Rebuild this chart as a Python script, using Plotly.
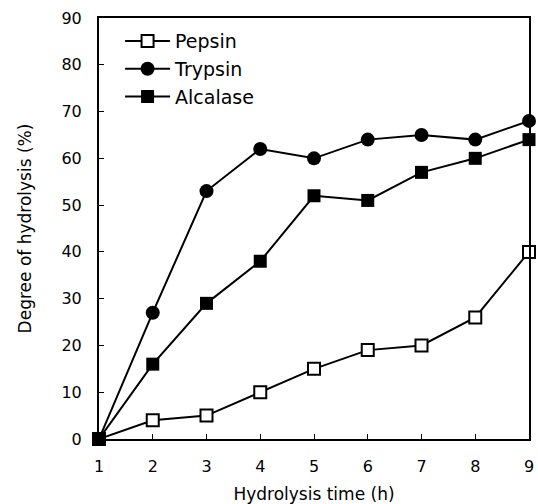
import plotly.graph_objects as go

hours = [1, 2, 3, 4, 5, 6, 7, 8, 9]
pepsin = [0, 4, 5, 10, 15, 19, 20, 26, 40]
trypsin = [0, 27, 53, 62, 60, 64, 65, 64, 68]
alcalase = [0, 16, 29, 38, 52, 51, 57, 60, 64]

x_ticks = [1, 2, 3, 4, 5, 6, 7, 8, 9]
y_ticks = [0, 10, 20, 30, 40, 50, 60, 70, 80, 90]

fig = go.Figure()
fig.add_trace(go.Scatter(x=hours, y=pepsin, name="Pepsin", mode="lines+markers",
                         line=dict(color="black", width=2),
                         marker=dict(symbol="square", size=12, color="white",
                                     line=dict(color="black", width=2))))
fig.add_trace(go.Scatter(x=hours, y=trypsin, name="Trypsin", mode="lines+markers",
                         line=dict(color="black", width=2),
                         marker=dict(symbol="circle", size=14, color="black")))
fig.add_trace(go.Scatter(x=hours, y=alcalase, name="Alcalase", mode="lines+markers",
                         line=dict(color="black", width=2),
                         marker=dict(symbol="square", size=13, color="black")))

font = "DejaVu Sans, sans-serif"
fig.update_layout(
    width=538, height=504,
    margin=dict(l=99, r=9, t=18, b=65),
    paper_bgcolor="white", plot_bgcolor="white",
    font=dict(family=font, size=16, color="black"),
    showlegend=True,
    legend=dict(x=0.049, y=0.99, xanchor="left", yanchor="top",
                bgcolor="rgba(0,0,0,0)", font=dict(size=19),
                itemwidth=45, tracegroupgap=0),
    xaxis=dict(range=[1, 9], tickvals=x_ticks, ticks="inside", ticklen=5,
               tickwidth=1, tickcolor="black", showline=True, linecolor="black",
               linewidth=2, mirror=True, showgrid=False, zeroline=False,
               ticklabelstandoff=12, tickfont=dict(size=16), automargin=False,
               title=dict(text="Hydrolysis time (h)", font=dict(size=17), standoff=14)),
    yaxis=dict(range=[0, 90], tickvals=y_ticks, ticks="inside", ticklen=5,
               tickwidth=1, tickcolor="black", showline=True, linecolor="black",
               linewidth=2, mirror=True, showgrid=False, zeroline=False,
               ticklabelstandoff=12, tickfont=dict(size=16), automargin=False,
               title=dict(text="Degree of hydrolysis (%)", font=dict(size=17), standoff=25)),
)
fig.update_traces(cliponaxis=False)
fig.write_html("out.html", config={"displayModeBar": False},
               post_script="document.body.style.margin='0';")
